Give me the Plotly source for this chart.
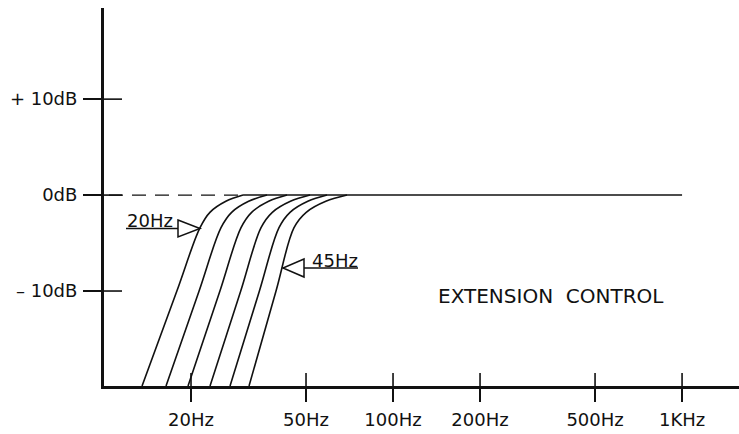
import plotly.graph_objects as go

# ---------------- data ----------------
freq_ticks = [20, 50, 100, 200, 500, 1000]
freq_labels = ["20Hz", "50Hz", "100Hz", "200Hz", "500Hz", "1KHz"]
db_ticks = [10, 0, -10]
db_labels = ["+ 10dB", "0dB", "– 10dB"]

curve_db = [-19.9, -10, -3.4, -1.8, -0.65, 0]
curve_20 = [13.54, 17.87, 21.49, 23.25, 26.40, 30.27]
curve_25 = [16.39, 21.33, 25.40, 27.64, 31.65, 36.65]
curve_30 = [19.53, 25.18, 29.79, 32.42, 37.12, 42.98]
curve_35 = [23.27, 29.72, 34.94, 38.23, 44.16, 51.62]
curve_40 = [27.29, 34.49, 40.32, 44.02, 50.72, 59.11]
curve_45 = [31.75, 39.37, 45.44, 50.08, 58.54, 69.32]
flat_hz = [30.27, 1000]
flat_db = [0, 0]

# ---------------- layout geometry ----------------
W, H = 739, 434
ML, MR, MT, MB = 104, 0, 8, 48
PW, PH = W - ML - MR, H - MT - MB
FONT = "DejaVu Sans"
INK = "#111111"


def px(x, y):
    """pixel -> paper coordinates (decoration helper)"""
    return (x - ML) / PW, (H - MB - y) / PH


fig = go.Figure()
for xs in [curve_20, curve_25, curve_30, curve_35, curve_40, curve_45]:
    fig.add_trace(go.Scatter(x=xs, y=curve_db, mode="lines",
                             line=dict(color=INK, width=1.6, shape="spline", smoothing=1.0),
                             hoverinfo="skip", showlegend=False))
fig.add_trace(go.Scatter(x=flat_hz, y=flat_db, mode="lines",
                         line=dict(color=INK, width=1.5), hoverinfo="skip", showlegend=False))

shapes = []
# y ticks crossing the axis (inner half)
for v in db_ticks:
    shapes.append(dict(type="line", xref="paper", yref="y",
                       x0=0, x1=18 / PW, y0=v, y1=v,
                       line=dict(color=INK, width=1.6)))
# x ticks crossing the axis (inner half)
for v in freq_ticks:
    shapes.append(dict(type="line", xref="x", yref="paper", x0=v, x1=v,
                       y0=0, y1=13 / PH, line=dict(color=INK, width=1.6)))
# dashed 0 dB reference to the left of the curves
x0p, _ = px(86, 0)
x1p, _ = px(240, 0)
shapes.append(dict(type="line", xref="paper", yref="y", x0=x0p, x1=x1p, y0=0, y1=0,
                   line=dict(color=INK, width=1.3, dash="14px,9px")))

# 20Hz pointer: underline + open triangle pointing right
a = px(126, 228.5); b = px(178, 228.5)
t1 = px(178, 220); t2 = px(200, 228.5); t3 = px(178, 237)
shapes.append(dict(type="path", xref="paper", yref="paper",
                   path=f"M{a[0]},{a[1]} L{b[0]},{b[1]} M{t1[0]},{t1[1]} L{t2[0]},{t2[1]} L{t3[0]},{t3[1]} Z",
                   line=dict(color=INK, width=1.5), fillcolor="white"))
# 45Hz pointer: open triangle pointing left + underline
a = px(304, 268); b = px(358, 268)
t1 = px(304, 259); t2 = px(283, 268); t3 = px(304, 277)
shapes.append(dict(type="path", xref="paper", yref="paper",
                   path=f"M{a[0]},{a[1]} L{b[0]},{b[1]} M{t1[0]},{t1[1]} L{t2[0]},{t2[1]} L{t3[0]},{t3[1]} Z",
                   line=dict(color=INK, width=1.5), fillcolor="white"))

annotations = []
ax_, ay_ = px(125, 220)
annotations.append(dict(xref="paper", yref="paper", x=ax_, y=ay_, xanchor="left", yanchor="middle",
                        text="20Hz", showarrow=False, font=dict(family=FONT, size=18, color=INK)))
ax_, ay_ = px(310, 260)
annotations.append(dict(xref="paper", yref="paper", x=ax_, y=ay_, xanchor="left", yanchor="middle",
                        text="45Hz", showarrow=False, font=dict(family=FONT, size=18, color=INK)))
ax_, ay_ = px(551, 296)
annotations.append(dict(xref="paper", yref="paper", x=ax_, y=ay_, xanchor="center", yanchor="middle",
                        text="EXTENSION  CONTROL", showarrow=False,
                        font=dict(family=FONT, size=20, color=INK)))

fig.update_layout(
    width=W, height=H,
    margin=dict(l=ML, r=MR, t=MT, b=MB, pad=0, autoexpand=False),
    paper_bgcolor="white", plot_bgcolor="white",
    shapes=shapes, annotations=annotations,
    font=dict(family=FONT, size=18, color=INK),
    xaxis=dict(type="log", range=[1.0, 3.197], showgrid=False, zeroline=False, automargin=False,
               showline=True, linecolor=INK, linewidth=2.6,
               tickmode="array", tickvals=freq_ticks, ticktext=freq_labels,
               ticks="outside", ticklen=13, tickwidth=1.6, tickcolor=INK,
               ticklabelstandoff=3, tickfont=dict(family=FONT, size=18, color=INK)),
    yaxis=dict(range=[-19.9, 19.5], showgrid=False, zeroline=False, automargin=False,
               showline=True, linecolor=INK, linewidth=3,
               tickmode="array", tickvals=db_ticks, ticktext=db_labels,
               ticks="outside", ticklen=18, tickwidth=1.6, tickcolor=INK,
               ticklabelstandoff=2, tickfont=dict(family=FONT, size=18, color=INK)),
)

fig.write_html("out.html", config={"displayModeBar": False},
               post_script="document.body.style.margin='0';document.body.style.padding='0';")
